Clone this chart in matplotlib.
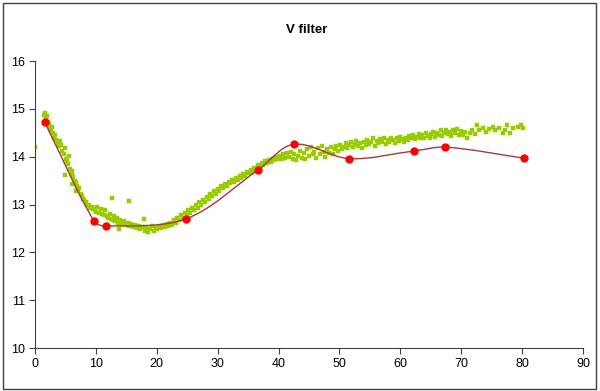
import matplotlib
matplotlib.use("Agg")
import matplotlib.pyplot as plt
from matplotlib.path import Path
from matplotlib.patches import PathPatch, Rectangle
import numpy as np

plt.rcParams['font.family'] = ['Liberation Sans', 'DejaVu Sans']

title = "V filter"
x_ticks = [0, 10, 20, 30, 40, 50, 60, 70, 80, 90]
y_ticks = [10, 11, 12, 13, 14, 15, 16]

# red model points
red_x = [1.6, 9.7, 11.7, 24.8, 36.6, 42.5, 51.6, 62.3, 67.4, 80.3]
red_y = [14.72, 12.65, 12.55, 12.70, 13.72, 14.26, 13.96, 14.12, 14.20, 13.97]

# green observations
green_x = [
    0.0, 1.5, 1.7, 1.8, 2.0, 2.1, 2.3, 2.4, 2.6, 2.8, 3.0, 3.1, 3.3, 3.5, 3.7, 3.9, 4.1, 4.3, 4.5, 4.7,
    4.9, 5.1, 5.3, 5.5, 5.6, 5.8, 6.0, 6.1, 6.3, 6.5, 6.7, 6.9, 7.1, 7.3, 7.5, 7.7, 7.9, 8.1, 8.3, 8.5,
    8.8, 9.0, 9.3, 9.5, 9.8, 5.0, 6.0, 6.8,
    10.0, 10.2, 10.5, 10.8, 11.0, 11.3, 11.5, 11.8, 12.0, 12.3, 12.6, 12.5, 12.8, 13.0, 13.2, 13.5, 13.8,
    13.7, 14.0, 14.3, 14.6, 14.9, 15.2, 15.4, 15.5, 15.8, 16.1, 16.4, 16.7, 17.0, 17.3, 17.6, 17.9, 18.0,
    18.3, 18.6, 18.9, 19.2, 19.5, 19.8, 20.1, 20.4, 20.7, 21.0, 21.3, 21.6, 21.9, 22.2, 22.5, 22.8, 23.1,
    23.4, 23.7, 24.0, 24.3, 24.6, 24.9,
    25.2, 25.5, 25.8, 26.1, 26.4, 26.7, 27.0, 27.3, 27.6, 27.9, 28.2, 28.5, 28.8, 29.1, 29.4, 29.7, 30.0,
    30.3, 30.6, 30.9, 31.2, 31.5, 31.8, 32.1, 32.4, 32.7, 33.0, 33.3, 33.6, 33.9, 34.2, 34.5, 34.8, 35.1,
    35.4, 35.7, 36.0, 36.3, 36.6, 36.9, 37.2, 37.5, 37.8, 38.1, 38.4, 38.7, 39.0, 39.3, 39.6, 39.9, 40.2,
    40.5, 40.8, 41.1, 41.4, 41.7,
    42.0, 42.3, 42.6, 42.9, 43.2, 43.5, 43.8, 44.1, 44.4, 44.7, 45.0, 45.3, 45.6, 45.9, 46.2, 46.5, 46.8,
    47.1, 47.4, 47.7, 48.0, 48.3, 48.6, 48.9, 49.2, 49.5, 49.8, 50.1, 50.4, 50.7, 51.0, 51.3, 51.6, 51.9,
    52.2, 52.5, 52.8, 53.1, 53.4, 53.7, 54.0, 54.3, 54.6, 54.9, 55.2, 55.5, 55.8, 56.1, 56.4, 56.7, 57.0,
    57.3, 57.6, 57.9, 58.2, 58.5, 58.8, 59.1, 59.4, 59.7, 60.0, 60.3, 60.6, 60.9, 61.2, 61.5, 61.8, 62.1,
    62.4, 62.7, 63.0, 63.3, 63.6, 63.9, 64.2, 64.5, 64.8, 65.1, 65.4, 65.7, 66.0, 66.3, 66.6, 66.9, 67.2,
    67.5, 67.8, 68.1, 68.4, 68.7, 69.0, 69.3, 69.6, 69.9,
    70.3, 70.6, 71.0, 71.4, 71.8, 72.2, 72.6, 73.0, 73.5, 74.0, 74.5, 75.2, 75.6, 76.2, 76.8, 77.2, 77.5,
    78.0, 78.5, 79.3, 79.8, 80.2,
]
green_y = [
    14.20, 14.88, 14.92, 14.80, 14.85, 14.72, 14.68, 14.60, 14.55, 14.62, 14.50, 14.40, 14.45, 14.35, 14.28, 14.22, 14.32, 14.25, 14.12, 14.05,
    14.18, 13.95, 13.90, 13.85, 14.02, 13.75, 13.70, 13.62, 13.58, 13.50, 13.45, 13.38, 13.30, 13.35, 13.22, 13.18, 13.12, 13.10, 13.05, 13.00,
    12.98, 12.93, 12.95, 12.90, 12.88, 13.62, 13.42, 13.28,
    12.85, 12.95, 12.82, 12.90, 12.80, 12.78, 12.88, 12.75, 12.72, 12.80, 13.13, 12.70, 12.68, 12.75, 12.65, 12.72, 12.49,
    12.62, 12.68, 12.60, 12.65, 12.58, 12.62, 13.07, 12.55, 12.60, 12.52, 12.58, 12.50, 12.55, 12.48, 12.52, 12.70, 12.45,
    12.50, 12.42, 12.48, 12.55, 12.45, 12.50, 12.48, 12.55, 12.50, 12.58, 12.52, 12.60, 12.55, 12.62, 12.58, 12.68, 12.62,
    12.72, 12.68, 12.78, 12.72, 12.82, 12.78,
    12.88, 12.82, 12.92, 12.88, 12.98, 12.92, 13.05, 13.00, 13.10, 13.05, 13.15, 13.12, 13.22, 13.18, 13.28, 13.22, 13.32,
    13.28, 13.38, 13.34, 13.42, 13.38, 13.48, 13.44, 13.52, 13.48, 13.56, 13.52, 13.60, 13.56, 13.64, 13.60, 13.68, 13.65,
    13.72, 13.68, 13.76, 13.72, 13.82, 13.78, 13.86, 13.82, 13.90, 13.86, 13.92, 13.88, 13.96, 13.92, 14.00, 13.95, 14.02,
    13.96, 14.05, 13.98, 14.08, 14.00,
    14.10, 13.95, 14.05, 13.92, 14.02, 14.12, 13.98, 14.08, 13.95, 14.15, 14.02, 14.20, 14.05, 14.10, 13.98, 14.18, 14.06,
    14.22, 14.10, 14.00, 14.15, 14.08, 14.20, 14.05, 14.15, 14.22, 14.12, 14.25, 14.15, 14.20, 14.28, 14.18, 14.24, 14.30,
    14.20, 14.26, 14.32, 14.22, 14.28, 14.18, 14.30, 14.24, 14.34, 14.26, 14.30, 14.38, 14.22, 14.32, 14.28, 14.36, 14.30,
    14.40, 14.26, 14.34, 14.30, 14.40, 14.35, 14.28, 14.38, 14.32, 14.42, 14.36, 14.30, 14.40, 14.34, 14.44, 14.38, 14.45,
    14.36, 14.42, 14.48, 14.40, 14.46, 14.38, 14.50, 14.44, 14.40, 14.48, 14.52, 14.42, 14.50, 14.46, 14.55, 14.44, 14.50,
    14.56, 14.48, 14.52, 14.44, 14.55, 14.50, 14.58, 14.46, 14.54,
    14.45, 14.52, 14.40, 14.50, 14.56, 14.48, 14.66, 14.55, 14.60, 14.52, 14.58, 14.62, 14.55, 14.60, 14.50, 14.56, 14.66,
    14.50, 14.60, 14.62, 14.66, 14.60,
]

W, H = 600, 391
fig = plt.figure(figsize=(W / 100, H / 100), dpi=100)
fig.patch.set_facecolor('white')
# outer chart border
fig.patches.append(Rectangle((3 / W, 2 / H), 593 / W, 386 / H, transform=fig.transFigure,
                             fill=False, edgecolor='#404040', linewidth=1.0))

ax = fig.add_axes([35 / W, 1 - 348 / H, 548 / W, 287 / H])
ax.set_xlim(0, 90)
ax.set_ylim(10, 16)
ax.set_xticks(x_ticks)
ax.set_yticks(y_ticks)
ax.tick_params(direction='out', length=4, width=0.8, color='#404040', labelsize=9,
               labelcolor='black', pad=3)
for s in ['top', 'right']:
    ax.spines[s].set_visible(False)
for s in ['left', 'bottom']:
    ax.spines[s].set_color('#404040')
    ax.spines[s].set_linewidth(0.8)

# green observations
ax.plot(green_x, green_y, linestyle='none', marker='s', markersize=2.2,
        markerfacecolor='#99CC00', markeredgecolor='#99CC00', markeredgewidth=0.3, zorder=2)

# smoothed red line: Bezier through the model points, tangents scaled by chord length
pts = ax.transData.transform(np.column_stack([red_x, red_y]))
n = len(pts)
bez = [pts[0]]
for i in range(n - 1):
    p0, p1 = pts[max(i - 1, 0)], pts[i]
    p2, p3 = pts[i + 1], pts[min(i + 2, n - 1)]
    d01 = np.hypot(*(p1 - p0)); d12 = np.hypot(*(p2 - p1)); d23 = np.hypot(*(p3 - p2))
    t1 = (p2 - p0) * (d12 / (d01 + d12)) if d01 + d12 > 0 else p2 - p1
    t2 = (p3 - p1) * (d12 / (d12 + d23)) if d12 + d23 > 0 else p2 - p1
    bez += [p1 + t1 / 3, p2 - t2 / 3, p2]
verts = ax.transData.inverted().transform(np.array(bez))
codes = [Path.MOVETO] + [Path.CURVE4] * (len(verts) - 1)
ax.add_patch(PathPatch(Path(verts, codes), fill=False, edgecolor='#A33A3A', linewidth=1.0, zorder=3))

ax.plot(red_x, red_y, linestyle='none', marker='o', markersize=5,
        markerfacecolor='#FF0000', markeredgecolor='#FF0000', zorder=4)

fig.text(307 / W, 1 - 30 / H, title, ha='center', va='center', fontsize=9.5, fontweight='bold')

fig.savefig('out.png', dpi=100, facecolor='white')
